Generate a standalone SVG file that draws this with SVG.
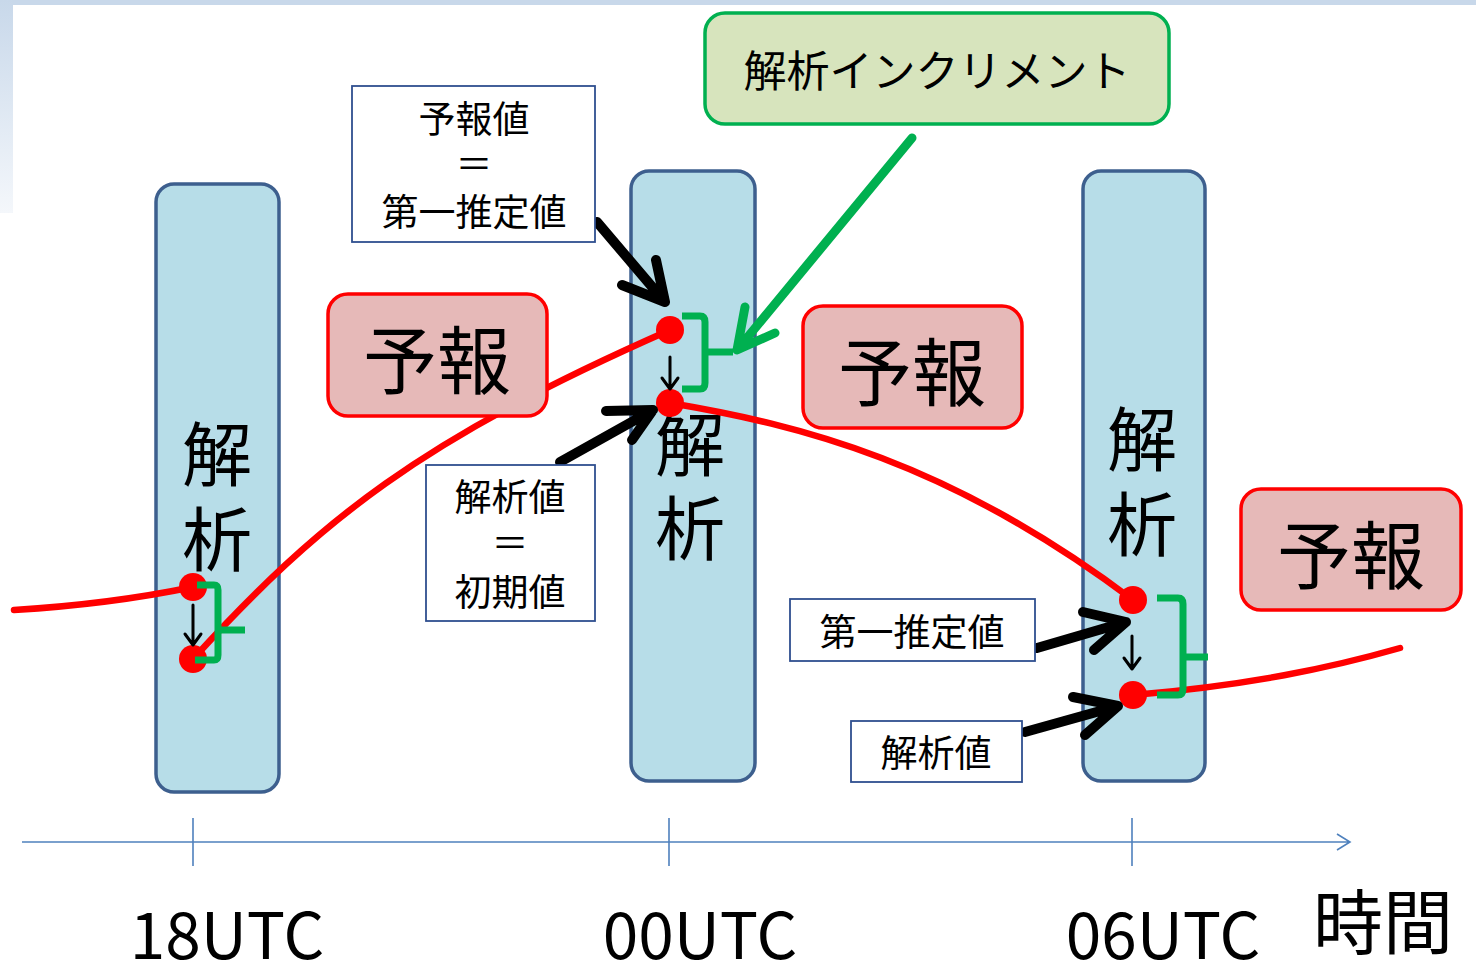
<svg xmlns="http://www.w3.org/2000/svg" width="1476" height="964" viewBox="0 0 1476 964">
<defs>
<linearGradient id="lg" x1="0" y1="0" x2="0" y2="1">
<stop offset="0" stop-color="#c8d8ea"/>
<stop offset="1" stop-color="#f4f7fb"/>
</linearGradient>
</defs>
<style>
.col{fill:#b7dde8;stroke:#3d5f8e;stroke-width:3.5}
.fc{fill:#e6b9b8;stroke:#ff0000;stroke-width:3.5}
.wb{fill:#ffffff;stroke:#2f4f8f;stroke-width:1.8}
.jp{font-family:"Noto Sans CJK JP","Noto Sans",sans-serif;fill:#000;text-anchor:middle;dominant-baseline:central}
.curve{fill:none;stroke:#ff0000;stroke-width:6.5;stroke-linecap:round}
.dot{fill:#ff0000}
.br{fill:none;stroke:#00b050;stroke-width:7;stroke-linejoin:round;stroke-linecap:butt}
.ba{fill:none;stroke:#000;stroke-width:10;stroke-linecap:round;stroke-linejoin:round}
.sa{fill:none;stroke:#000;stroke-width:3;stroke-linecap:round;stroke-linejoin:round}
.ga{fill:none;stroke:#00b050;stroke-width:9;stroke-linecap:round;stroke-linejoin:round}
.ax{fill:none;stroke:#4f81bd;stroke-width:1.6}
</style>
<rect x="0" y="0" width="1476" height="964" fill="#ffffff"/>
<rect x="0" y="0" width="1476" height="5" fill="#c8d8ea"/>
<rect x="0" y="0" width="13" height="213" fill="url(#lg)"/>

<g id="col18">
<rect class="col" x="156" y="184" width="123" height="608" rx="18"/>
<text class="jp" x="217" y="450" font-size="70">解</text>
<text class="jp" x="217" y="535" font-size="70">析</text>
</g>
<g id="col00">
<rect class="col" x="631" y="171" width="124" height="610" rx="18"/>
<text class="jp" x="690" y="440" font-size="70">解</text>
<text class="jp" x="690" y="524" font-size="70">析</text>
</g>
<g id="col06">
<rect class="col" x="1083" y="171" width="122" height="610" rx="18"/>
<text class="jp" x="1142" y="435" font-size="70">解</text>
<text class="jp" x="1142" y="520" font-size="70">析</text>
</g>

<g id="connectors">
<path class="curve" d="M14,610 C80,606 140,598 193,587"/>
<path class="curve" d="M193,659 C320,520 420,440 670,330"/>
<path class="curve" d="M670,403 C800,425 950,462 1133,600"/>
<path class="curve" d="M1133,695 C1250,685 1330,668 1400,648"/>
<circle class="dot" cx="193" cy="587" r="14"/>
<circle class="dot" cx="193" cy="659" r="14"/>
<circle class="dot" cx="670" cy="330" r="14"/>
<circle class="dot" cx="670" cy="403" r="14"/>
<circle class="dot" cx="1133" cy="600" r="14"/>
<circle class="dot" cx="1133" cy="695" r="14"/>
<path class="br" d="M197,585 H214 Q218,585 218,590 V655 Q218,660 214,660 H195 M218,630 H245"/>
<path class="br" d="M682,316 H700 Q705,316 705,322 V383 Q705,389 700,389 H682 M705,352 H733"/>
<path class="br" d="M1157,598 H1178 Q1183,598 1183,604 V689 Q1183,695 1178,695 H1157 M1183,657 H1208"/>
<path class="sa" d="M193,605 V645 M185,634 L193,645 L201,634"/>
<path class="sa" d="M670,357 V389 M662,378 L670,389 L678,378"/>
<path class="sa" d="M1132,636 V669 M1124,658 L1132,669 L1140,658"/>
<path class="ba" d="M597,222 L665,302 M622,285 L665,302 L656,260"/>
<path class="ba" d="M560,462 L653,410 M606,411 L653,410 L632,440"/>
<path class="ba" d="M1037,648 L1126,622 M1083,612 L1126,622 L1094,650"/>
<path class="ba" d="M1025,732 L1118,706 M1073,697 L1118,706 L1085,735"/>
<path class="ga" d="M912,138 L737,350 M745,307 L737,350 L775,333"/>
<path class="ax" d="M22,842 H1350 M1337,834 L1350,842 L1337,850"/>
<path class="ax" d="M193,818 V866 M669,818 V866 M1132,818 V866"/>
</g>

<g id="fc1">
<rect class="fc" x="328" y="294" width="219" height="122" rx="20"/>
<text class="jp" x="437" y="355" font-size="74">予報</text>
</g>
<g id="fc2">
<rect class="fc" x="803" y="306" width="219" height="122" rx="20"/>
<text class="jp" x="912" y="367" font-size="74">予報</text>
</g>
<g id="fc3">
<rect class="fc" x="1241" y="489" width="220" height="121" rx="20"/>
<text class="jp" x="1351" y="550" font-size="74">予報</text>
</g>

<g id="increment">
<rect x="705" y="13" width="464" height="111" rx="20" fill="#d7e4bd" stroke="#00b050" stroke-width="3.5"/>
<text class="jp" x="937" y="68" font-size="43">解析インクリメント</text>
</g>

<g id="firstguess1">
<rect class="wb" x="352" y="86" width="243" height="156"/>
<text class="jp" x="474" y="117" font-size="37">予報値</text>
<text class="jp" x="474" y="162" font-size="37">＝</text>
<text class="jp" x="474" y="210" font-size="37">第一推定値</text>
</g>
<g id="analysis1">
<rect class="wb" x="426" y="465" width="169" height="156"/>
<text class="jp" x="510" y="495" font-size="37">解析値</text>
<text class="jp" x="510" y="541" font-size="37">＝</text>
<text class="jp" x="510" y="590" font-size="37">初期値</text>
</g>
<g id="firstguess2">
<rect class="wb" x="790" y="599" width="245" height="62"/>
<text class="jp" x="912" y="630" font-size="37">第一推定値</text>
</g>
<g id="analysis2">
<rect class="wb" x="851" y="721" width="171" height="61"/>
<text class="jp" x="936" y="751" font-size="37">解析値</text>
</g>

<g id="labels">
<text class="jp" x="227" y="931" font-size="64">18UTC</text>
<text class="jp" x="700" y="931" font-size="64">00UTC</text>
<text class="jp" x="1163" y="931" font-size="64">06UTC</text>
<text class="jp" x="1383" y="918" font-size="70">時間</text>
</g>
</svg>
